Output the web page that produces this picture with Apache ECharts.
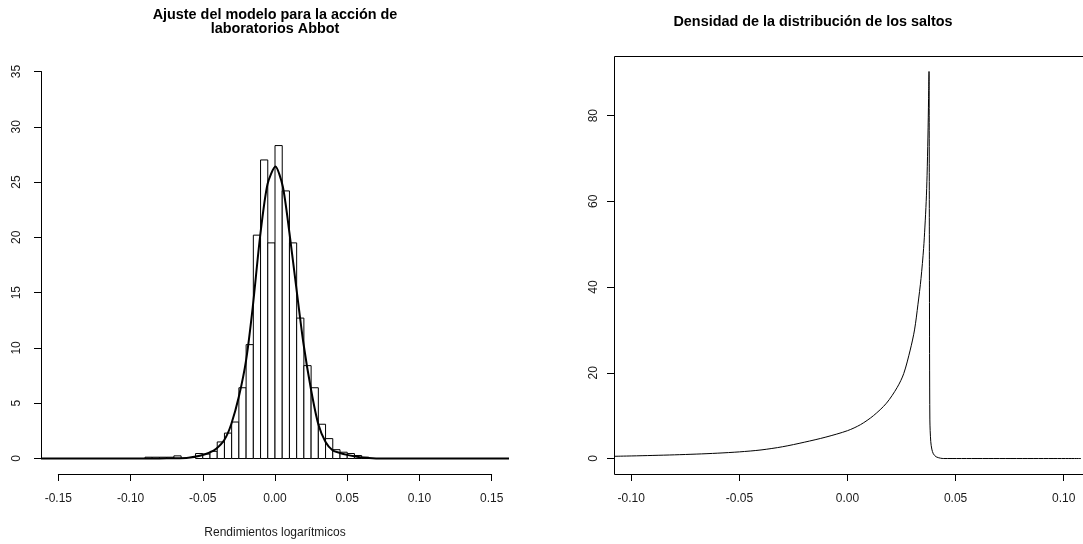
<!DOCTYPE html>
<html><head><meta charset="utf-8">
<script src="https://cdn.jsdelivr.net/npm/echarts@6/dist/echarts.min.js"></script>
<style>html,body{margin:0;padding:0;background:#fff}#c{width:1083px;height:544px}</style>
</head><body><div id="c"></div>
<script>
// ---- Left panel: histogram of log returns (bin start, bin width, density) ----
const histBinStart = [-0.090,-0.085,-0.080,-0.075,-0.070,-0.055,-0.050,-0.045,-0.040,-0.035,-0.030,-0.025,-0.020,-0.015,-0.010,-0.005,0.000,0.005,0.010,0.015,0.020,0.025,0.030,0.035,0.040,0.045,0.050,0.055,0.060];
const histDensity  = [0.12,0.12,0.12,0.12,0.24,0.45,0.40,0.65,1.5,2.3,3.3,6.4,10.3,20.2,27.0,19.5,28.3,24.2,19.5,12.7,8.4,6.4,3.1,1.8,0.8,0.57,0.45,0.27,0.12];
const binWidth = 0.005;
// fitted density curve
const densX = [-0.162,-0.10,-0.08,-0.07,-0.06,-0.052,-0.045,-0.0407,-0.035,-0.0303,-0.025,-0.020,-0.0154,-0.0103,-0.0052,0.0003,0.0054,0.010,0.0147,0.0197,0.025,0.030,0.035,0.040,0.045,0.050,0.055,0.060,0.065,0.070,0.080,0.162];
const densY = [0,0,0.01,0.03,0.08,0.25,0.55,0.88,1.7,3.1,5.6,8.9,13.7,20.1,24.8,26.4,24.6,20.4,15.5,10.4,6.2,3.1,1.5,0.73,0.5,0.33,0.2,0.1,0.04,0.01,0,0];
const xTicksL = [-0.15,-0.10,-0.05,0.00,0.05,0.10,0.15];
const yTicksL = [0,5,10,15,20,25,30,35];
// ---- Right panel: jump density ----
const jumpX = [-0.108,-0.10,-0.09,-0.08,-0.07,-0.06,-0.05,-0.04,-0.03,-0.02,-0.01,0.000,0.006,0.012,0.018,0.023,0.026,0.029,0.031,0.0326,0.034,0.0352,0.0358,0.0364,0.0368,0.0372,0.0375,0.0377,0.0379,0.0381,0.0385,0.039,0.0397,0.041,0.043,0.0445,0.108];
const jumpY = [0.52,0.60,0.72,0.86,1.03,1.25,1.55,2.0,2.75,3.8,5.0,6.5,7.9,10.0,12.9,16.6,19.8,25.3,30,36,42,49,54,60,66,75,84,90.3,40,9,4,2.2,1.1,0.4,0.08,0,0];
const xTicksR = [-0.10,-0.05,0.00,0.05,0.10];
const yTicksR = [0,20,40,60,80];

const titleL = 'Ajuste del modelo para la acción de\nlaboratorios Abbot';
const titleR = 'Densidad de la distribución de los saltos';
const xNameL = 'Rendimientos logarítmicos';

const FONT = '"Liberation Sans", Arial, Helvetica, sans-serif';
const W = 1083, H = 544;

// plot regions (pixels) and ranges (R style 4% extension)
function ext(a, b){ const d = (b - a) * 0.04; return [a - d, b + d]; }
const L = {x0: 41, x1: 509, y0: 56, y1: 474, xr: ext(xTicksL[0], xTicksL[xTicksL.length-1]), yr: ext(0, 35)};
const R = {x0: 614, x1: 1081, y0: 56, y1: 474, xr: ext(xTicksR[0], xTicksR[xTicksR.length-1]), yr: ext(0, Math.max(...jumpY))};
function px(P, v){ return P.x0 + (v - P.xr[0]) / (P.xr[1] - P.xr[0]) * (P.x1 - P.x0); }
function py(P, v){ return P.y1 - (v - P.yr[0]) / (P.yr[1] - P.yr[0]) * (P.y1 - P.y0); }

function dataGrid(P){
  return {left: P.x0, top: P.y0, width: P.x1 - P.x0, height: P.y1 - P.y0, containLabel: false, show: false};
}
const grids = [
  dataGrid(L),
  {left: px(L, xTicksL[0]), width: px(L, xTicksL[xTicksL.length-1]) - px(L, xTicksL[0]), top: L.y1 - 1, height: 1},
  {left: L.x0, width: 1, top: py(L, yTicksL[yTicksL.length-1]), height: py(L, yTicksL[0]) - py(L, yTicksL[yTicksL.length-1])},
  dataGrid(R),
  {left: px(R, xTicksR[0]), width: px(R, xTicksR[xTicksR.length-1]) - px(R, xTicksR[0]), top: R.y1 - 1, height: 1},
  {left: R.x0, width: 1, top: py(R, yTicksR[yTicksR.length-1]), height: py(R, yTicksR[0]) - py(R, yTicksR[yTicksR.length-1])}
];

const lineC = '#000', textC = '#1a1a1a';
const hidden = (gi, P, which) => ({type: 'value', gridIndex: gi, show: false, min: P ? P[which][0] : 0, max: P ? P[which][1] : 1, scale: true});
function tickX(gi, ticks, showLine){
  return {type: 'value', gridIndex: gi, position: 'bottom', min: ticks[0], max: ticks[ticks.length-1], interval: ticks[1] - ticks[0],
    axisLine: {show: showLine, lineStyle: {color: lineC, width: 1}},
    axisTick: {show: true, inside: false, length: 7, lineStyle: {color: lineC}},
    splitLine: {show: false},
    axisLabel: {show: true, margin: 19, color: textC, fontSize: 12, fontFamily: FONT, showMinLabel: true, showMaxLabel: true,
      formatter: v => (Math.abs(v) < 1e-9 ? 0 : v).toFixed(2)}};
}
function tickY(gi, ticks, showLine, margin){
  return {type: 'value', gridIndex: gi, position: 'left', min: ticks[0], max: ticks[ticks.length-1], interval: ticks[1] - ticks[0],
    axisLine: {show: showLine, lineStyle: {color: lineC, width: 1}},
    axisTick: {show: true, inside: false, length: 7, lineStyle: {color: lineC}},
    splitLine: {show: false},
    axisLabel: {show: true, rotate: 90, margin: margin, color: textC, fontSize: 12, fontFamily: FONT, showMinLabel: true, showMaxLabel: true,
      formatter: v => String(Math.round(v))}};
}

const xAxes = [
  hidden(0, L, 'xr'), tickX(1, xTicksL, true), hidden(2, null),
  hidden(3, R, 'xr'), tickX(4, xTicksR, true), hidden(5, null)
];
const yAxes = [
  hidden(0, L, 'yr'), hidden(1, null), tickY(2, yTicksL, true, 18),
  hidden(3, R, 'yr'), hidden(4, null), tickY(5, yTicksR, false, 14)
];

const histData = histBinStart.map((s, i) => [s, s + binWidth, histDensity[i]]);
const densData = densX.map((x, i) => [x, densY[i]]);
const jumpData = jumpX.map((x, i) => [x, jumpY[i]]);

const option = {
  animation: false,
  backgroundColor: '#fff',
  grid: grids,
  xAxis: xAxes,
  yAxis: yAxes,
  series: [
    {type: 'custom', xAxisIndex: 0, yAxisIndex: 0, data: histData, encode: {x: [0, 1], y: 2},
      renderItem: function(params, api){
        const a = api.coord([api.value(0), api.value(2)]);
        const b = api.coord([api.value(1), 0]);
        return {type: 'rect', shape: {x: a[0], y: a[1], width: b[0] - a[0], height: b[1] - a[1]},
          style: {fill: '#fff', stroke: '#000', lineWidth: 1}};
      }},
    {type: 'line', xAxisIndex: 0, yAxisIndex: 0, data: densData, showSymbol: false, smooth: 0.25,
      lineStyle: {color: '#000', width: 2}, clip: false},
    {type: 'line', xAxisIndex: 3, yAxisIndex: 3, data: jumpData, showSymbol: false, smooth: 0.3,
      lineStyle: {color: '#000', width: 1}}
  ],
  graphic: [
    // frame (box) of the right plot; its right side lies just outside the picture
    {type: 'rect', z: 10, silent: true, shape: {x: R.x0 + 0.5, y: R.y0 + 0.5, width: W + 10 - R.x0, height: R.y1 - R.y0},
      style: {fill: 'none', stroke: '#000', lineWidth: 1}},
    {type: 'text', x: (L.x0 + L.x1) / 2, y: 22, style: {text: titleL, font: 'bold 14.4px ' + FONT, fill: '#000', textAlign: 'center', textVerticalAlign: 'middle', lineHeight: 14}},
    {type: 'text', x: 813, y: 22, style: {text: titleR, font: 'bold 14.4px ' + FONT, fill: '#000', textAlign: 'center', textVerticalAlign: 'middle'}},
    {type: 'text', x: (L.x0 + L.x1) / 2, y: 533, style: {text: xNameL, font: '12px ' + FONT, fill: textC, textAlign: 'center', textVerticalAlign: 'middle'}}
  ]
};
const chart = echarts.init(document.getElementById('c'), null, {renderer: 'canvas', width: W, height: H});
chart.setOption(option);
</script>
</body></html>
